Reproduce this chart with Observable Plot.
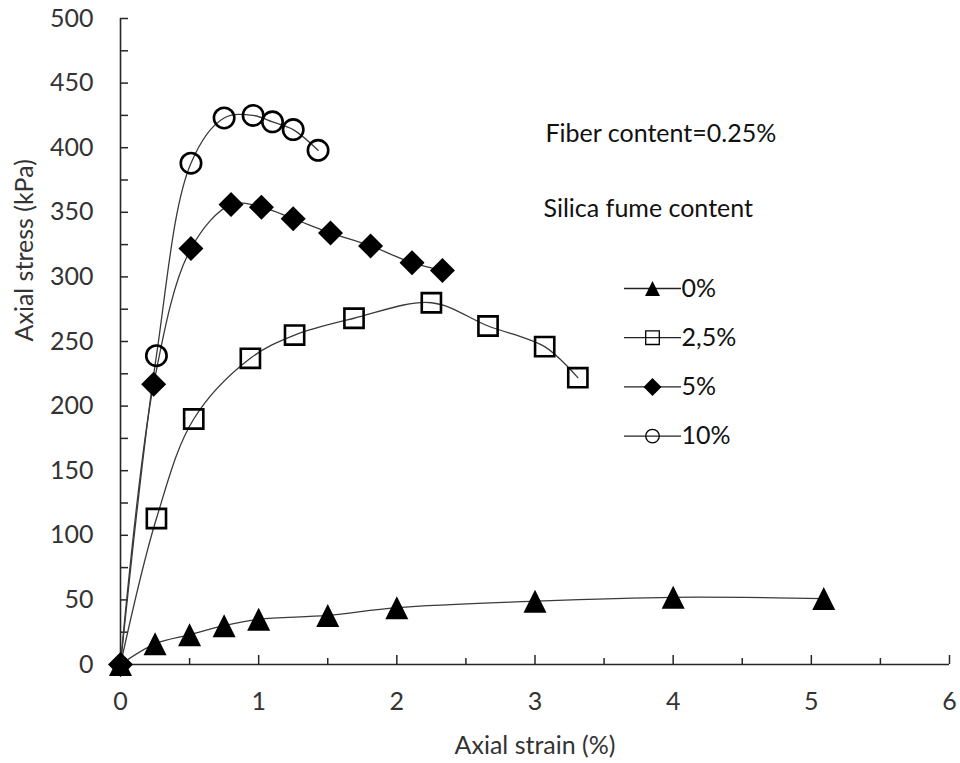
<!DOCTYPE html>
<html>
<head>
<meta charset="utf-8">
<script src="https://cdn.jsdelivr.net/npm/d3@7"></script>
<script src="https://cdn.jsdelivr.net/npm/@observablehq/plot@0.6"></script>
<style>
  body { margin: 0; background: #fff; }
  #chart { width: 960px; height: 763px; }
</style>
</head>
<body>
<div id="chart"></div>
<script>
// ---- data ----
const seriesNames = ["0%", "2,5%", "5%", "10%"];

const strain0  = [0, 0.25, 0.50, 0.75, 1.00, 1.50, 2.00, 3.00, 4.00, 5.09];
const stress0  = [0, 16, 23, 30, 35, 38, 44, 49, 52, 51];

const strain25 = [0, 0.26, 0.53, 0.94, 1.26, 1.69, 2.25, 2.66, 3.07, 3.31];
const stress25 = [0, 113, 190, 237, 255, 268, 280, 262, 246, 222];

const strain5  = [0, 0.24, 0.51, 0.80, 1.02, 1.25, 1.52, 1.81, 2.11, 2.33];
const stress5  = [0, 217, 322, 356, 354, 345, 334, 324, 311, 305];

const strain10 = [0, 0.26, 0.51, 0.75, 0.96, 1.10, 1.25, 1.43];
const stress10 = [0, 239, 388, 423, 425, 420, 414, 398];

const xTickLabels = [0, 1, 2, 3, 4, 5, 6];
const xMinorTicks = [0.5, 1.5, 2.5, 3.5, 4.5, 5.5];
const yTickLabels = [0, 50, 100, 150, 200, 250, 300, 350, 400, 450, 500];
const yMinorTicks = [25, 75, 125, 175, 225, 275, 325, 375, 425, 475];

const xLabel = "Axial strain (%)";
const yLabel = "Axial stress (kPa)";
const note1 = "Fiber content=0.25%";
const note2 = "Silica fume content";

// ---- build table ----
const strains = [strain0, strain25, strain5, strain10];
const stresses = [stress0, stress25, stress5, stress10];
const rows = [];
seriesNames.forEach((name, s) => {
  strains[s].forEach((x, i) => rows.push({series: name, strain: x, stress: stresses[s][i]}));
});

// ---- custom symbols (bbox-centred like spreadsheet markers) ----
const rad = size => Math.sqrt(size / Math.PI);
const triSym = {draw(ctx, size) { const r = rad(size); ctx.moveTo(0, -r); ctx.lineTo(r, r); ctx.lineTo(-r, r); ctx.closePath(); }};
const sqSym = {draw(ctx, size) { const r = rad(size); ctx.rect(-r, -r, 2 * r, 2 * r); }};
const diaSym = {draw(ctx, size) { const r = rad(size); ctx.moveTo(0, -r); ctx.lineTo(r, 0); ctx.lineTo(0, r); ctx.lineTo(-r, 0); ctx.closePath(); }};
const hlineSym = {draw(ctx) { ctx.moveTo(-28.5, 0); ctx.lineTo(28.5, 0); }};

const styles = [
  {symbol: triSym, fill: "#000", stroke: "none", strokeWidth: 0, r: 11.5, lr: 7.5, lsw: 0},
  {symbol: sqSym, fill: "none", stroke: "#000", strokeWidth: 2.6, r: 9.6, lr: 6.8, lsw: 1.3},
  {symbol: diaSym, fill: "#000", stroke: "none", strokeWidth: 0, r: 12.5, lr: 9, lsw: 0},
  {symbol: "circle", fill: "none", stroke: "#000", strokeWidth: 2.6, r: 10.2, lr: 6.8, lsw: 1.3}
];

const ink = "#262626";
const lineColor = "#3a3a3a";
const fmt = d => String(d);

const marks = [
  // axes lines
  Plot.ruleY([0], {stroke: ink, strokeWidth: 1.6}),
  Plot.ruleX([0], {stroke: ink, strokeWidth: 1.6}),
  // inward ticks
  Plot.axisY(yTickLabels.concat(yMinorTicks), {tickSize: -8, tickFormat: () => "", label: null, stroke: ink, strokeWidth: 1.5}),
  Plot.axisX(xTickLabels, {tickSize: -9, tickFormat: () => "", label: null, stroke: ink, strokeWidth: 1.5}),
  Plot.axisX(xMinorTicks, {tickSize: -6, tickFormat: () => "", label: null, stroke: ink, strokeWidth: 1.5}),
  // tick labels
  Plot.axisY(yTickLabels, {tickSize: 0, tickPadding: 27, tickFormat: fmt, label: null, fontSize: 25, fill: "#333", stroke: null}),
  Plot.axisX(xTickLabels, {tickSize: 0, tickPadding: 28, tickFormat: fmt, label: null, fontSize: 25, fill: "#333", stroke: null}),
  // axis titles
  Plot.text([yLabel], {text: d => d, frameAnchor: "left", dx: -96, rotate: -90, lineAnchor: "middle", fontSize: 25, fill: "#333"}),
  Plot.text([xLabel], {text: d => d, frameAnchor: "bottom", dy: 81, lineAnchor: "middle", fontSize: 25, fill: "#333"}),
  // curves
  Plot.line(rows, {x: "strain", y: "stress", z: "series", curve: "catmull-rom", stroke: lineColor, strokeWidth: 1.3})
];

// markers: hollow first (without origin), filled on top
[1, 3, 0, 2].forEach(s => {
  const st = styles[s];
  const data = rows.filter(d => d.series === seriesNames[s] && (st.fill !== "none" || d.strain > 0));
  marks.push(Plot.dot(data, {x: "strain", y: "stress", symbol: st.symbol, r: st.r, fill: st.fill, stroke: st.stroke, strokeWidth: st.strokeWidth}));
});

// annotations
marks.push(Plot.text([note1], {text: d => d, frameAnchor: "top-left", dx: 425, dy: 115, textAnchor: "start", lineAnchor: "middle", fontSize: 25, fill: "#111"}));
marks.push(Plot.text([note2], {text: d => d, frameAnchor: "top-left", dx: 423, dy: 190, textAnchor: "start", lineAnchor: "middle", fontSize: 25, fill: "#111"}));

// legend
seriesNames.forEach((name, s) => {
  const st = styles[s];
  const dy = 270 + s * 49.2;
  marks.push(Plot.dot([name], {frameAnchor: "top-left", dx: 532, dy, symbol: hlineSym, r: 1, fill: "none", stroke: "#222", strokeWidth: 1.3}));
  marks.push(Plot.dot([name], {frameAnchor: "top-left", dx: 532, dy, symbol: st.symbol, r: st.lr,
    fill: st.fill === "none" ? "#fff" : st.fill, fillOpacity: st.fill === "none" ? 0 : 1, stroke: st.stroke, strokeWidth: st.lsw}));
  marks.push(Plot.text([name], {text: d => d, frameAnchor: "top-left", dx: 561, dy, textAnchor: "start", lineAnchor: "middle", fontSize: 25, fill: "#111"}));
});

const chart = Plot.plot({
  width: 960,
  height: 763,
  marginLeft: 120,
  marginRight: 11,
  marginTop: 18,
  marginBottom: 99,
  x: {domain: [0, 6], axis: null},
  y: {domain: [0, 500], axis: null},
  style: {fontFamily: "Lato, 'Open Sans', sans-serif", background: "#fff", overflow: "visible"},
  marks
});
document.getElementById("chart").appendChild(chart);
</script>
</body>
</html>
